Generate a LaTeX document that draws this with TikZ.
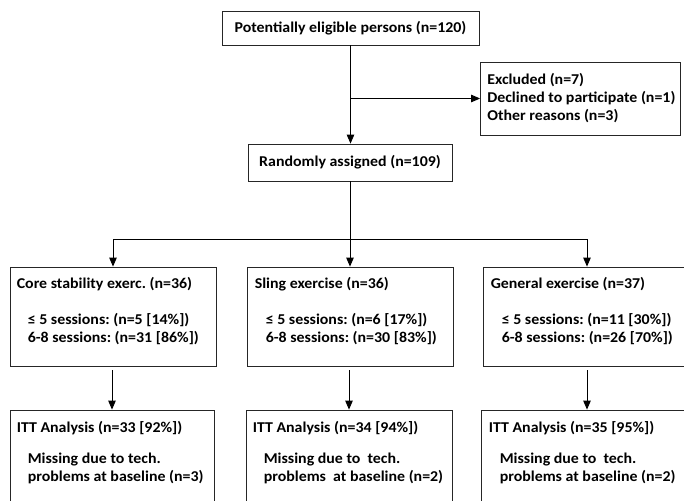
\documentclass[tikz,border=0pt]{standalone}
\usepackage{fontspec}
\setmainfont[FakeStretch=1.06]{Carlito}
\usetikzlibrary{arrows.meta, positioning}
\tikzstyle{arrow} = [line width=0.9pt,-{Triangle[length=9pt,width=7.5pt]}]

\begin{document}
\frenchspacing
\begin{tikzpicture}[x=1pt,y=-1pt,
    box/.style={draw=black!85, line width=0.8pt, inner sep=0pt},
    txt/.style={inner sep=0pt, align=left, font=\fontsize{15}{18}\selectfont\bfseries}]
\clip (0,0) rectangle (684,500);
% boxes
\node[box, minimum width=257pt, minimum height=34pt, txt] (top) at (350.5,28) {Potentially eligible persons (n=120)};
\node[box, minimum width=200pt, minimum height=73pt] (excl) at (580.5,98.5) {};
\node[box, minimum width=204pt, minimum height=37pt, txt] (rand) at (350,162.5) {Randomly assigned (n=109)};
\node[box, minimum width=206pt, minimum height=99pt] (core) at (113,316.5) {};
\node[box, minimum width=206pt, minimum height=99pt] (sling) at (350,316.5) {};
\node[box, minimum width=208pt, minimum height=99pt] (gen) at (587,316.5) {};
\node[box, minimum width=204pt, minimum height=100pt] (itt1) at (112,460) {};
\node[box, minimum width=206pt, minimum height=100pt] (itt2) at (349,460) {};
\node[box, minimum width=212pt, minimum height=100pt] (itt3) at (587,460) {};
% texts
\node[txt, anchor=west] (excltxt) at ([xshift=7pt]excl.west)
    {Excluded (n=7)\\Declined to participate (n=1)\\Other reasons (n=3)};
\node[txt, anchor=north west] (coretxt) at ([shift={(7,11)}]core.north west)
    {Core stability exerc. (n=36)\\[18pt]\hspace{11pt}≤ 5 sessions: (n=5 [14\%])\\\hspace{11pt}6-8 sessions: (n=31 [86\%])};
\node[txt, anchor=north west] (slingtxt) at ([shift={(8,11)}]sling.north west)
    {Sling exercise (n=36)\\[18pt]\hspace{11pt}≤ 5 sessions: (n=6 [17\%])\\\hspace{11pt}6-8 sessions: (n=30 [83\%])};
\node[txt, anchor=north west] (gentxt) at ([shift={(8,11)}]gen.north west)
    {General exercise (n=37)\\[18pt]\hspace{11pt}≤ 5 sessions: (n=11 [30\%])\\\hspace{11pt}6-8 sessions: (n=26 [70\%])};
\node[txt, anchor=north west] (itt1txt) at ([shift={(7,12)}]itt1.north west)
    {ITT Analysis (n=33 [92\%])\\[13pt]\hspace{11pt}Missing due to tech.\\\hspace{11pt}problems at baseline (n=3)};
\node[txt, anchor=north west] (itt2txt) at ([shift={(7,12)}]itt2.north west)
    {ITT Analysis (n=34 [94\%])\\[13pt]\hspace{11pt}Missing due to\ \ tech.\\\hspace{11pt}problems\ \ at baseline (n=2)};
\node[txt, anchor=north west] (itt3txt) at ([shift={(8,12)}]itt3.north west)
    {ITT Analysis (n=35 [95\%])\\[13pt]\hspace{11pt}Missing due to\ \ tech.\\\hspace{11pt}problems at baseline (n=2)};
% connectors
\coordinate (split) at (top.south |- excl.west);
\coordinate (fork) at ([yshift=-58pt]rand.south);
\draw[arrow] (top.south) -- (top.south |- rand.north);
\draw[arrow] (split) -- (excl.west);
\draw[line width=0.9pt] (rand.south) -- (fork);
\draw[arrow] (fork) -| (core.north);
\draw[arrow] (fork) -| (gen.north);
\draw[arrow] (fork) -- (fork |- sling.north);
\draw[arrow, shorten <=4pt] (core.south -| itt1.north) -- (itt1.north);
\draw[arrow, shorten <=4pt] (sling.south -| itt2.north) -- (itt2.north);
\draw[arrow, shorten <=4pt] (gen.south -| itt3.north) -- (itt3.north);
\end{tikzpicture}
\end{document}
